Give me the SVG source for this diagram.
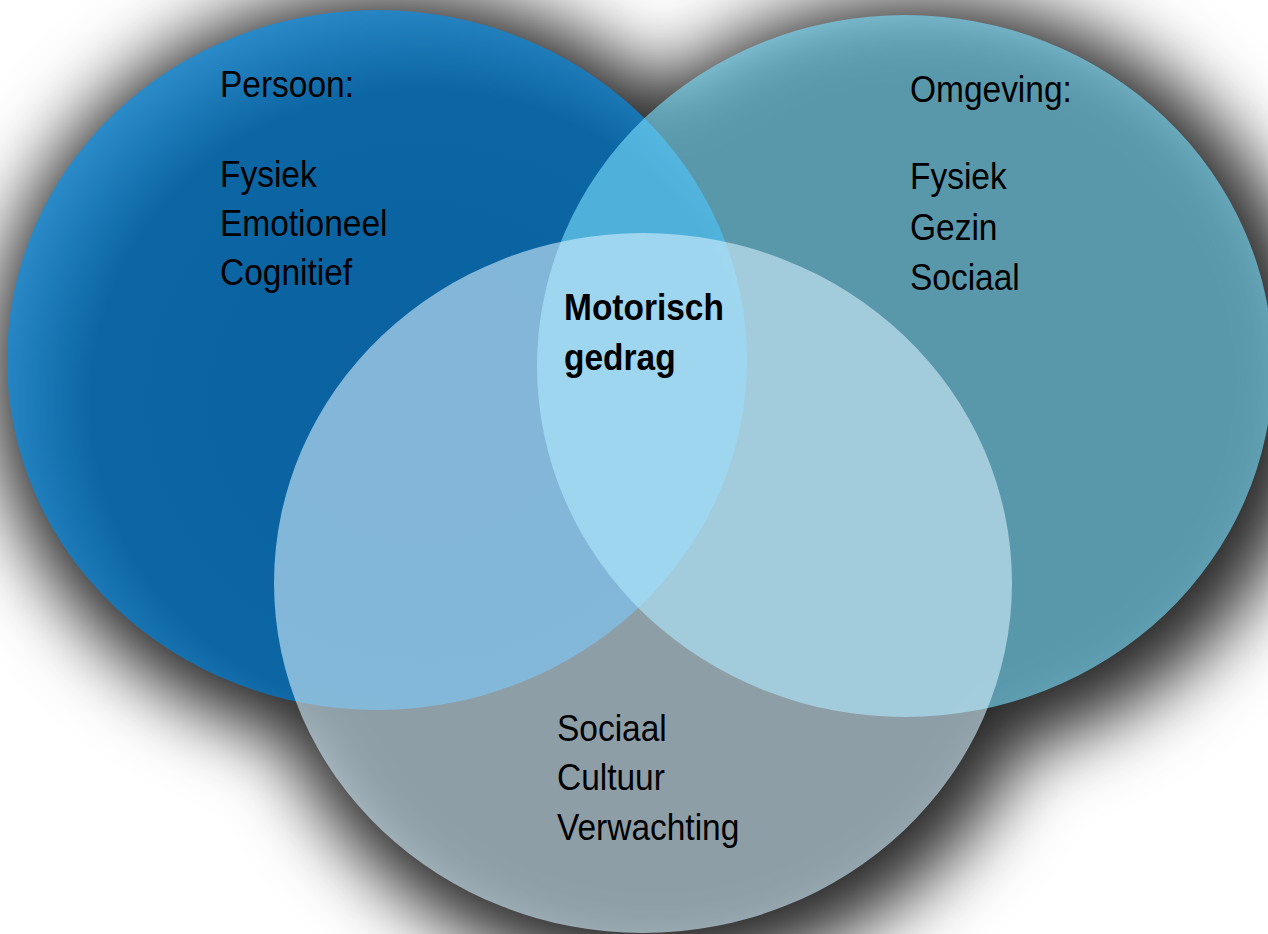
<svg xmlns="http://www.w3.org/2000/svg" width="1268" height="934" viewBox="0 0 1268 934">
<defs>
<filter id="shadowBlur" x="-40%" y="-40%" width="180%" height="180%" color-interpolation-filters="sRGB">
<feGaussianBlur stdDeviation="36"/>
</filter>
<radialGradient id="leftGrad" cx="0.56" cy="0.56" r="0.62">
<stop offset="0" stop-color="#0a62a0"/>
<stop offset="0.72" stop-color="#0c66a3"/>
<stop offset="1" stop-color="#3394d2"/>
</radialGradient>
<style>
.lbl{font-family:"Liberation Sans",Arial,sans-serif;font-size:37px;fill:#000;}
.bold{font-weight:bold;}
</style>
</defs>
<rect x="0" y="0" width="1268" height="934" fill="#ffffff"/>
<g id="shadow" filter="url(#shadowBlur)" fill="#262626">
<ellipse cx="390" cy="372" rx="400" ry="380"/>
<ellipse cx="920" cy="380" rx="398" ry="381"/>
<ellipse cx="656" cy="596" rx="399" ry="380"/>
</g>
<g id="persoon">
<ellipse cx="377" cy="360" rx="370" ry="350" fill="url(#leftGrad)"/>
<text class="lbl" transform="translate(220,97) scale(0.905,1)">Persoon:</text>
<text class="lbl" transform="translate(220,187) scale(0.905,1)">Fysiek</text>
<text class="lbl" transform="translate(220,236) scale(0.905,1)">Emotioneel</text>
<text class="lbl" transform="translate(220,285) scale(0.905,1)">Cognitief</text>
</g>
<g id="omgeving">
<ellipse cx="905" cy="366" rx="368" ry="351" fill="#79dffb" fill-opacity="0.62"/>
<text class="lbl" transform="translate(910,102) scale(0.905,1)">Omgeving:</text>
<text class="lbl" transform="translate(910,189) scale(0.905,1)">Fysiek</text>
<text class="lbl" transform="translate(910,240) scale(0.905,1)">Gezin</text>
<text class="lbl" transform="translate(910,290) scale(0.905,1)">Sociaal</text>
</g>
<g id="cultuur">
<ellipse cx="643" cy="583" rx="369" ry="350" fill="#d3effd" fill-opacity="0.6"/>
<text class="lbl" transform="translate(557,741) scale(0.905,1)">Sociaal</text>
<text class="lbl" transform="translate(557,790) scale(0.905,1)">Cultuur</text>
<text class="lbl" transform="translate(557,840) scale(0.905,1)">Verwachting</text>
</g>
<g id="motorisch-gedrag">
<text class="lbl bold" transform="translate(564,320) scale(0.905,1)">Motorisch</text>
<text class="lbl bold" transform="translate(564,370) scale(0.905,1)">gedrag</text>
</g>
<g id="connectors"/>
</svg>
